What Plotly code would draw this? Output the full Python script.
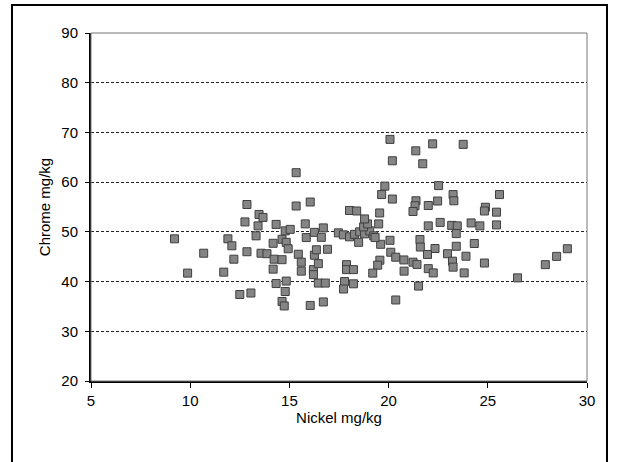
import plotly.graph_objects as go

# Nickel (mg/kg) and Chrome (mg/kg) values
nickel = [
    9.21, 9.87, 10.68, 11.69, 11.9, 12.1, 12.2, 12.5, 12.86, 12.86,
    12.76, 13.06, 13.32, 13.42, 13.47, 13.67, 13.57, 13.87, 14.18, 14.33,
    14.23, 14.63, 14.18, 14.33, 14.84, 14.79, 14.63, 14.74, 14.63, 14.79,
    15.04, 14.84, 14.94, 15.34, 15.34, 16.05, 15.8, 15.45, 15.6, 15.6,
    16.05, 15.85, 16.26, 16.71, 16.61, 16.26, 16.36, 16.92, 16.21, 16.46,
    16.21, 16.46, 16.81, 16.71, 17.47, 17.72, 18.03, 18.28, 18.54, 18.79,
    19.05, 19.25, 18.49, 18.74, 18.94, 18.79, 19.5, 19.55, 18.03, 18.39,
    17.88, 17.88, 18.23, 17.78, 17.73, 18.23, 19.65, 19.81, 20.19, 20.07,
    20.19, 19.6, 20.07, 19.32, 20.11, 20.36, 20.77, 21.23, 21.43, 19.56,
    19.45, 19.2, 20.36, 20.78, 21.37, 22.22, 21.72, 21.38, 21.33, 21.23,
    22.0, 22.47, 22.52, 21.58, 21.6, 22.34, 21.96, 22.0, 22.25, 21.51,
    22.0, 22.6, 23.18, 23.46, 23.25, 23.29, 23.76, 23.41, 23.41, 22.97,
    23.9, 23.22, 23.25, 23.81, 24.16, 24.32, 24.6, 24.88, 24.83, 25.44,
    25.59, 25.44, 24.83, 26.5, 27.9, 28.47, 29.01,
]
chrome = [
    48.6, 41.7, 45.7, 41.9, 48.6, 47.2, 44.5, 37.4, 46.0, 55.5,
    52.0, 37.7, 49.2, 51.2, 53.5, 52.9, 45.7, 45.6, 47.7, 51.5,
    44.5, 44.4, 42.5, 39.6, 40.1, 38.0, 36.0, 35.1, 48.5, 50.2,
    50.5, 47.9, 46.6, 61.9, 55.2, 56.0, 51.6, 45.5, 43.9, 42.1,
    35.2, 48.85, 49.9, 50.8, 48.9, 45.3, 46.4, 46.5, 42.4, 43.6,
    41.4, 39.7, 39.7, 35.9, 49.8, 49.4, 49.0, 49.5, 50.0, 49.6,
    50.2, 49.2, 47.9, 51.0, 51.6, 52.6, 51.6, 53.8, 54.3, 54.2,
    43.4, 42.4, 42.4, 40.0, 38.5, 39.55, 57.5, 59.2, 56.6, 68.6,
    64.3, 47.5, 48.3, 48.85, 45.9, 44.9, 44.35, 43.9, 43.45, 44.3,
    43.3, 41.7, 36.3, 42.1, 66.3, 67.7, 63.7, 56.25, 55.25, 54.1,
    55.3, 56.2, 59.3, 48.45, 46.95, 46.65, 45.45, 42.6, 41.74, 39.1,
    51.2, 51.9, 51.3, 51.2, 57.5, 56.25, 67.6, 49.65, 47.1, 45.6,
    45.1, 44.1, 42.9, 41.74, 51.8, 47.66, 51.2, 54.95, 54.2, 53.96,
    57.5, 51.4, 43.73, 40.74, 43.4, 45.07, 46.6,
]

x_ticks = [5, 10, 15, 20, 25, 30]
y_ticks = [20, 30, 40, 50, 60, 70, 80, 90]
x_title = "Nickel mg/kg"
y_title = "Chrome mg/kg"

FONT = "Liberation Sans, Arial, sans-serif"

fig = go.Figure()
fig.add_trace(go.Scatter(
    x=nickel, y=chrome, mode="markers",
    marker=dict(symbol="square", size=8, color="#858585",
                line=dict(color="#3f3f3f", width=1)),
    showlegend=False, hoverinfo="x+y",
))

fig.update_layout(
    width=619, height=462,
    margin=dict(l=91, r=32, t=33, b=81, pad=0),
    paper_bgcolor="white", plot_bgcolor="white",
    font=dict(family=FONT, size=15, color="black"),
    xaxis=dict(
        range=[5, 30], tickvals=x_ticks, ticks="outside", ticklen=5,
        tickcolor="black", showline=True, linecolor="black", linewidth=2,
        showgrid=False, zeroline=False,
        title=dict(text=x_title, standoff=2, font=dict(size=15)),
        tickfont=dict(size=15), ticklabelstandoff=0,
    ),
    yaxis=dict(
        range=[20, 90], tickvals=y_ticks, ticks="outside", ticklen=4,
        tickcolor="black", showline=True, linecolor="black", linewidth=2,
        showgrid=True, gridcolor="#222222", gridwidth=1, griddash="3px,2px",
        zeroline=False,
        title=dict(text=y_title, standoff=7, font=dict(size=15)),
        tickfont=dict(size=15), ticklabelstandoff=4,
    ),
    shapes=[
        # thin plot-area border (top/right)
        dict(type="rect", xref="paper", yref="paper", x0=0, x1=1, y0=0, y1=1,
             line=dict(color="#777777", width=1), layer="above"),
        # outer frame
        dict(type="rect", xref="paper", yref="paper",
             x0=-0.1593, x1=1.0403, y0=-0.26, y1=1.0803,
             line=dict(color="black", width=2), layer="above"),
    ],
)

fig.write_html("out.html")
